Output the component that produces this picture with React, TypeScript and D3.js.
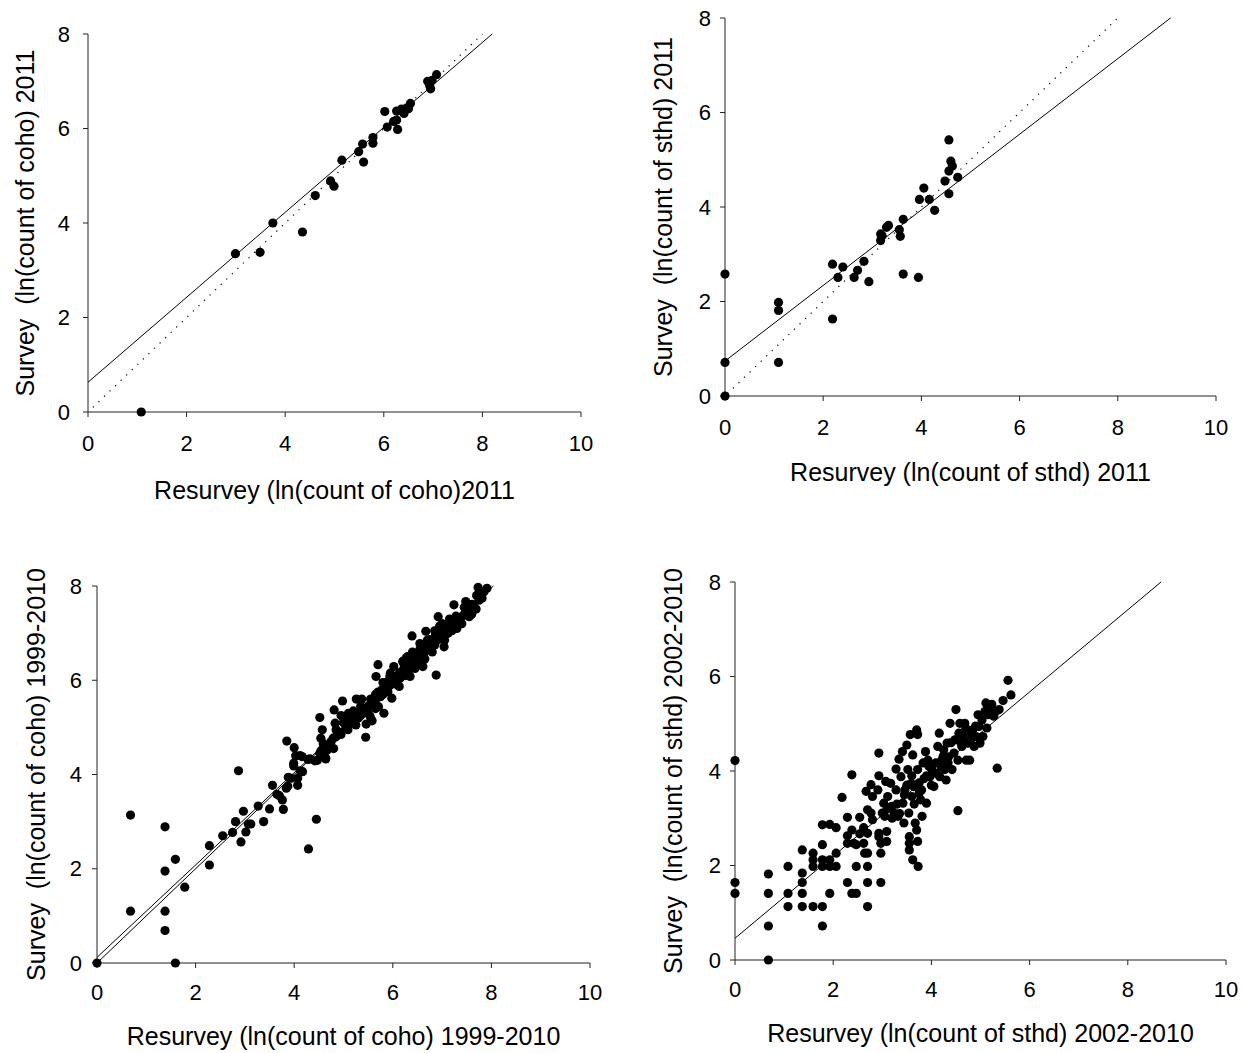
import React from "react";
import * as d3 from "d3";

// ---------- DATA ----------
const xTicks = [0, 2, 4, 6, 8, 10];
const yTicks = [0, 2, 4, 6, 8];

// Panel A: coho 2011 [resurvey, survey]
const cohoPts2011: [number, number][] = [
  [1.08, 0.0], [2.99, 3.35], [3.49, 3.38], [3.75, 4.0], [4.35, 3.81], [4.61, 4.58],
  [4.92, 4.89], [4.99, 4.78], [5.15, 5.33], [5.49, 5.51], [5.57, 5.67], [5.59, 5.29],
  [5.78, 5.81], [5.78, 5.69], [6.02, 6.36], [6.07, 6.03], [6.2, 6.15], [6.26, 6.18],
  [6.28, 5.98], [6.26, 6.37], [6.36, 6.41], [6.41, 6.32], [6.46, 6.43], [6.5, 6.42],
  [6.54, 6.53], [6.89, 7.0], [6.93, 6.91], [6.95, 6.84], [6.98, 7.02], [7.07, 7.14],
];

// Panel B: steelhead 2011
const sthdPts2011: [number, number][] = [
  [0, 0.0], [0, 0.71], [0, 2.58], [1.09, 1.98], [1.09, 1.81], [1.09, 0.71],
  [2.19, 2.79], [2.19, 1.63], [2.3, 2.51], [2.4, 2.73], [2.63, 2.51], [2.7, 2.66],
  [2.83, 2.85], [2.93, 2.42], [3.17, 3.29], [3.17, 3.43], [3.2, 3.39], [3.29, 3.57],
  [3.33, 3.61], [3.55, 3.52], [3.57, 3.38], [3.63, 3.74], [3.63, 2.58], [3.94, 2.51],
  [3.96, 4.16], [4.05, 4.4], [4.16, 4.16], [4.27, 3.93], [4.48, 4.55], [4.56, 4.28],
  [4.56, 4.76], [4.56, 5.42], [4.6, 4.97], [4.63, 4.87], [4.74, 4.63],
];

// Panel C: coho 1999-2010
const cohoPtsHist: [number, number][] = [
  [0, 0], [0.68, 3.14], [0.68, 1.1], [1.38, 2.89], [1.38, 1.95], [1.38, 1.1], [1.38, 0.69],
  [1.59, 2.2], [1.59, 0], [1.78, 1.61], [2.28, 2.49], [2.28, 2.08], [2.55, 2.7], [2.75, 2.77],
  [2.81, 3.0], [2.87, 4.08], [2.92, 2.57], [2.97, 3.22], [3.02, 2.78], [3.07, 2.95], [3.12, 2.95],
  [3.27, 3.33], [3.38, 3.0], [3.5, 3.27], [3.56, 3.77], [3.65, 3.58], [3.7, 3.55], [3.76, 3.46],
  [3.78, 3.26], [3.84, 3.71], [3.88, 3.94], [3.85, 4.71], [4.0, 4.57], [3.99, 4.18], [4.03, 4.4],
  [4.07, 3.92], [4.07, 3.77], [4.12, 4.08], [4.17, 4.06], [4.12, 4.4], [4.29, 2.42], [4.45, 3.05],
  [4.28, 4.32], [4.42, 4.29], [4.47, 4.3], [4.54, 4.5], [4.61, 4.4], [4.64, 4.35], [4.6, 4.6],
  [3.87, 3.75], [3.94, 3.92], [3.99, 4.24], [4.16, 4.38], [4.32, 4.33], [4.52, 4.45], [4.62, 4.59],
  [4.52, 5.21], [4.57, 4.95], [4.54, 4.77], [4.59, 4.66], [4.64, 4.33], [4.67, 4.52], [4.81, 5.37],
  [4.79, 4.77], [4.83, 5.09], [4.85, 4.95], [4.98, 5.56], [5.01, 5.16], [5.09, 4.95], [5.14, 5.09],
  [5.17, 5.28], [5.26, 5.6], [5.32, 5.31], [5.37, 5.6], [5.45, 4.79], [5.46, 5.07], [5.54, 5.23],
  [5.58, 5.14], [5.62, 5.51], [5.66, 5.6], [5.7, 6.33], [5.71, 5.44], [5.66, 6.08], [5.78, 5.8],
  [5.82, 5.3], [5.86, 5.95], [5.9, 5.76], [5.94, 6.08], [5.98, 5.62], [6.02, 6.29], [6.06, 5.97],
  [6.13, 5.87], [6.14, 6.16], [6.23, 6.33], [6.27, 6.47], [6.31, 6.15], [6.35, 6.08], [6.39, 6.4],
  [6.39, 6.94], [6.47, 6.57], [6.51, 6.33], [6.55, 6.78], [6.61, 6.29], [6.63, 6.64], [6.67, 7.04],
  [6.71, 6.71], [6.75, 6.86], [6.79, 6.75], [6.86, 6.94], [6.88, 6.11], [6.92, 7.35], [6.96, 7.07],
  [7.0, 6.89], [7.04, 6.71], [7.08, 7.1], [7.12, 7.0], [7.2, 7.21], [7.24, 7.6], [7.28, 7.36],
  [7.32, 7.21], [7.36, 7.28], [7.48, 7.67], [7.52, 7.49], [7.61, 7.61], [7.69, 7.51], [7.73, 7.97],
  [7.85, 7.88], [7.91, 7.95], [7.81, 7.74],
  [5.05, 5.0], [5.2, 5.15], [5.3, 5.2], [5.4, 5.35], [5.5, 5.45], [5.6, 5.55], [5.65, 5.7],
  [5.75, 5.65], [5.85, 5.85], [5.95, 5.9], [6.05, 6.0], [6.1, 6.1], [6.2, 6.2], [6.25, 6.1],
  [6.3, 6.3], [6.4, 6.35], [6.45, 6.5], [6.5, 6.45], [6.55, 6.55], [6.6, 6.5], [6.65, 6.6],
  [6.7, 6.65], [6.75, 6.7], [6.8, 6.8], [6.85, 6.75], [6.9, 6.85], [6.95, 6.9], [7.0, 7.0],
  [7.05, 6.95], [7.1, 7.05], [7.15, 7.1], [7.2, 7.15], [7.25, 7.2], [7.3, 7.3], [7.35, 7.25],
  [7.4, 7.35], [7.45, 7.4], [7.55, 7.5], [7.65, 7.55], [7.75, 7.7], [4.7, 4.6], [4.75, 4.7],
  [4.85, 4.8], [4.9, 4.9], [4.95, 4.85], [5.0, 5.1], [5.1, 5.05], [5.15, 5.2], [5.25, 5.3],
  [5.35, 5.25], [5.45, 5.4], [5.55, 5.6], [5.6, 5.5], [5.7, 5.75], [5.8, 5.7], [5.9, 5.95],
  [6.0, 5.95], [6.15, 6.05], [6.35, 6.25], [6.6, 6.7], [6.9, 7.0], [7.1, 7.15], [7.2, 7.05],
  [7.4, 7.2], [7.5, 7.45], [7.6, 7.4],
  [5.2, 5.35], [5.35, 5.45], [5.5, 5.3], [5.65, 5.4], [5.8, 5.95], [5.95, 6.15], [6.1, 5.9],
  [6.3, 6.5], [6.45, 6.25], [6.55, 6.65], [6.7, 6.85], [6.8, 6.6], [6.95, 7.15], [7.05, 6.85],
  [7.15, 7.3], [7.3, 7.1], [7.45, 7.55], [7.55, 7.35], [7.7, 7.8], [4.8, 4.55], [4.95, 5.25],
  [5.1, 5.3], [5.25, 5.05], [6.2, 6.4], [6.4, 6.6], [6.65, 6.45], [6.85, 7.05], [7.0, 7.2],
];

// Panel D: steelhead 2002-2010
const sthdPtsHist: [number, number][] = [
  [0, 4.22], [0, 1.64], [0, 1.41], [0.68, 1.82], [0.68, 1.41], [0.68, 0.72], [0.68, 0.0],
  [1.08, 1.98], [1.08, 1.41], [1.08, 1.13], [1.37, 2.33], [1.37, 1.84], [1.37, 1.64], [1.37, 1.41],
  [1.37, 1.13], [1.59, 2.26], [1.59, 2.12], [1.59, 1.98], [1.59, 1.13], [1.78, 2.86], [1.78, 2.44],
  [1.78, 2.12], [1.78, 1.98], [1.78, 1.13], [1.78, 0.72], [1.93, 2.87], [1.93, 2.12], [1.93, 1.98],
  [1.93, 1.41], [2.06, 2.8], [2.06, 2.26], [2.06, 1.98], [2.18, 3.44], [2.29, 3.02], [2.29, 2.63],
  [2.29, 2.47], [2.29, 1.64], [2.38, 3.92], [2.38, 2.75], [2.38, 1.41], [2.42, 2.47], [2.47, 1.98],
  [2.47, 1.41], [2.47, 2.44], [2.54, 3.02], [2.54, 2.67], [2.62, 2.8], [2.62, 2.47], [2.64, 2.26],
  [2.7, 3.18], [2.7, 2.68], [2.7, 2.26], [2.7, 1.98], [2.7, 1.64], [2.7, 1.13], [2.67, 3.57],
  [2.77, 3.71], [2.77, 3.11], [2.8, 3.46], [2.8, 2.97], [2.93, 4.38], [2.93, 3.9], [2.91, 3.6],
  [2.93, 2.68], [2.93, 2.61], [2.97, 2.47], [2.97, 2.26], [2.97, 1.64], [3.0, 3.11], [3.03, 3.32],
  [3.05, 3.04], [3.07, 3.78], [3.09, 2.72], [3.09, 2.51], [3.11, 3.46], [3.17, 3.74], [3.19, 3.25],
  [3.24, 3.11], [3.28, 4.04], [3.28, 3.6], [3.32, 3.04], [3.34, 4.25], [3.38, 3.88], [3.41, 4.41],
  [3.42, 3.32], [3.44, 2.9], [3.46, 3.6], [3.5, 4.55], [3.52, 4.03], [3.54, 3.11], [3.55, 2.61],
  [3.55, 2.47], [3.55, 2.33], [3.57, 4.77], [3.59, 3.74], [3.6, 3.46], [3.62, 4.34], [3.62, 2.12],
  [3.64, 3.67], [3.67, 2.9], [3.7, 4.87], [3.72, 4.77], [3.7, 2.75], [3.72, 2.51], [3.73, 1.98],
  [3.72, 4.03], [3.75, 3.53], [3.78, 3.39], [3.81, 3.04], [3.83, 4.17], [3.85, 3.84], [3.88, 4.41],
  [3.9, 3.32], [3.93, 4.23], [3.97, 3.88], [4.01, 4.03], [4.05, 3.67], [4.09, 4.17], [4.13, 4.52],
  [4.16, 4.8], [4.17, 3.88], [4.21, 4.23], [4.24, 4.31], [4.27, 4.03], [4.3, 3.81], [4.32, 4.59],
  [4.34, 4.17], [4.38, 5.01], [4.42, 4.03], [4.46, 4.38], [4.48, 4.66], [4.5, 5.3], [4.54, 3.16],
  [4.54, 4.23], [4.56, 4.8], [4.58, 5.01], [4.62, 4.52], [4.65, 4.73], [4.68, 5.01], [4.71, 4.23],
  [4.74, 4.59], [4.78, 4.23], [4.81, 4.8], [4.84, 4.87], [4.87, 4.52], [4.91, 4.73], [4.95, 5.19],
  [4.97, 4.94], [4.99, 4.59], [5.03, 5.08], [5.05, 4.73], [5.09, 5.26], [5.11, 5.44], [5.13, 4.91],
  [5.15, 5.19], [5.19, 5.3], [5.23, 5.41], [5.27, 5.16], [5.31, 5.26], [5.34, 4.06], [5.38, 5.3],
  [5.46, 5.49], [5.56, 5.92], [5.62, 5.61],
  [3.1, 3.2], [3.2, 3.0], [3.3, 3.3], [3.35, 3.1], [3.45, 3.5], [3.5, 3.7], [3.6, 3.9], [3.65, 3.3],
  [3.75, 3.75], [3.8, 3.6], [3.9, 3.9], [3.95, 4.1], [4.0, 3.7], [4.1, 3.95], [4.2, 4.1],
  [4.25, 4.45], [4.35, 4.3], [4.4, 4.6], [4.6, 4.6], [4.7, 4.9], [4.8, 4.65], [4.9, 4.95],
];

// Reference / fitted lines: [intercept, slope, xStart, xEnd]
const cohoLines2011: [number, number, number, number][] = [[0.63, 0.899, 0, 8.2]];
const cohoOneToOne2011: [number, number, number, number][] = [[0, 1, 0.1, 8.0]];
const sthdLines2011: [number, number, number, number][] = [[0.74, 0.8, 0, 9.08]];
const sthdOneToOne2011: [number, number, number, number][] = [[0, 1, 0.05, 8.0]];
const cohoLinesHist: [number, number, number, number][] = [[0.12, 0.98, 0, 8.04], [0, 1, 0, 8.0]];
const sthdLinesHist: [number, number, number, number][] = [[0.46, 0.869, 0, 8.68]];

const xTitles = [
  "Resurvey (ln(count of coho)2011",
  "Resurvey (ln(count of sthd) 2011",
  "Resurvey (ln(count of coho) 1999-2010",
  "Resurvey (ln(count of sthd) 2002-2010",
];
const yTitles = [
  "Survey  (ln(count of coho) 2011",
  "Survey  (ln(count of sthd) 2011",
  "Survey  (ln(count of coho) 1999-2010",
  "Survey  (ln(count of sthd) 2002-2010",
];

// ---------- LAYOUT ----------
const panels = [
  { x0: 88, x1: 581, y0: 412, y1: 34, pts: cohoPts2011, solid: cohoLines2011, dotted: cohoOneToOne2011, xt: 0, xl: 31, yl: 18, xTitle: 78, yTitle: 63 },
  { x0: 725, x1: 1216, y0: 396, y1: 18, pts: sthdPts2011, solid: sthdLines2011, dotted: sthdOneToOne2011, xt: 1, xl: 31, yl: 14, xTitle: 76, yTitle: 62 },
  { x0: 97, x1: 590, y0: 963, y1: 586, pts: cohoPtsHist, solid: cohoLinesHist, dotted: [], xt: 2, xl: 29, yl: 15, xTitle: 73, yTitle: 61 },
  { x0: 735, x1: 1226, y0: 960, y1: 582, pts: sthdPtsHist, solid: sthdLinesHist, dotted: [], xt: 3, xl: 29, yl: 14, xTitle: 73, yTitle: 62 },
];

const FONT = "'Liberation Sans', Arial, sans-serif";
const AXIS = "#222";

function Panel({ p }: { p: typeof panels[number] }) {
  const x = d3.scaleLinear().domain([0, 10]).range([p.x0, p.x1]);
  const y = d3.scaleLinear().domain([0, 8]).range([p.y0, p.y1]);
  const line = d3.line<[number, number]>().x((d) => x(d[0])).y((d) => y(d[1]));
  const seg = (l: [number, number, number, number]) =>
    line([[l[2], l[0] + l[1] * l[2]], [l[3], l[0] + l[1] * l[3]]]) || "";
  const cx = (p.x0 + p.x1) / 2;
  const cy = (p.y0 + p.y1) / 2;
  return (
    <g>
      <line x1={p.x0} x2={p.x1} y1={p.y0} y2={p.y0} stroke={AXIS} strokeWidth={1} />
      <line x1={p.x0} x2={p.x0} y1={p.y0} y2={p.y1} stroke={AXIS} strokeWidth={1} />
      {xTicks.map((t) => (
        <g key={"xt" + t}>
          <line x1={x(t)} x2={x(t)} y1={p.y0} y2={p.y0 + 5} stroke={AXIS} />
          <text x={x(t)} y={p.y0 + p.xl} textAnchor="middle" dominantBaseline="central" fontSize={22} fontFamily={FONT}>
            {t}
          </text>
        </g>
      ))}
      {yTicks.map((t) => (
        <g key={"yt" + t}>
          <line x1={p.x0 - 5} x2={p.x0} y1={y(t)} y2={y(t)} stroke={AXIS} />
          <text x={p.x0 - p.yl} y={y(t)} textAnchor="end" dominantBaseline="central" fontSize={22} fontFamily={FONT}>
            {t}
          </text>
        </g>
      ))}
      {p.dotted.map((l, i) => (
        <path key={"d" + i} d={seg(l)} stroke="#000" strokeWidth={1.2} strokeDasharray="1.2 6.5" fill="none" />
      ))}
      {p.solid.map((l, i) => (
        <path key={"s" + i} d={seg(l)} stroke="#000" strokeWidth={1} fill="none" />
      ))}
      {p.pts.map((d, i) => (
        <circle key={i} cx={x(d[0])} cy={y(d[1])} r={4.6} fill="#000" />
      ))}
      <text x={cx} y={p.y0 + p.xTitle} textAnchor="middle" dominantBaseline="central" fontSize={25} fontFamily={FONT} style={{ whiteSpace: "pre" }}>
        {xTitles[p.xt]}
      </text>
      <text
        transform={`translate(${p.x0 - p.yTitle},${cy}) rotate(-90)`}
        textAnchor="middle"
        dominantBaseline="central"
        fontSize={25}
        fontFamily={FONT}
        style={{ whiteSpace: "pre" }}
      >
        {yTitles[p.xt]}
      </text>
    </g>
  );
}

export default function App() {
  return (
    <svg
      width={1243}
      height={1053}
      viewBox="0 0 1243 1053"
      style={{ position: "absolute", left: 0, top: 0, background: "#fff" }}
    >
      <rect width={1243} height={1053} fill="#fff" />
      {panels.map((p, i) => (
        <Panel key={i} p={p} />
      ))}
    </svg>
  );
}
